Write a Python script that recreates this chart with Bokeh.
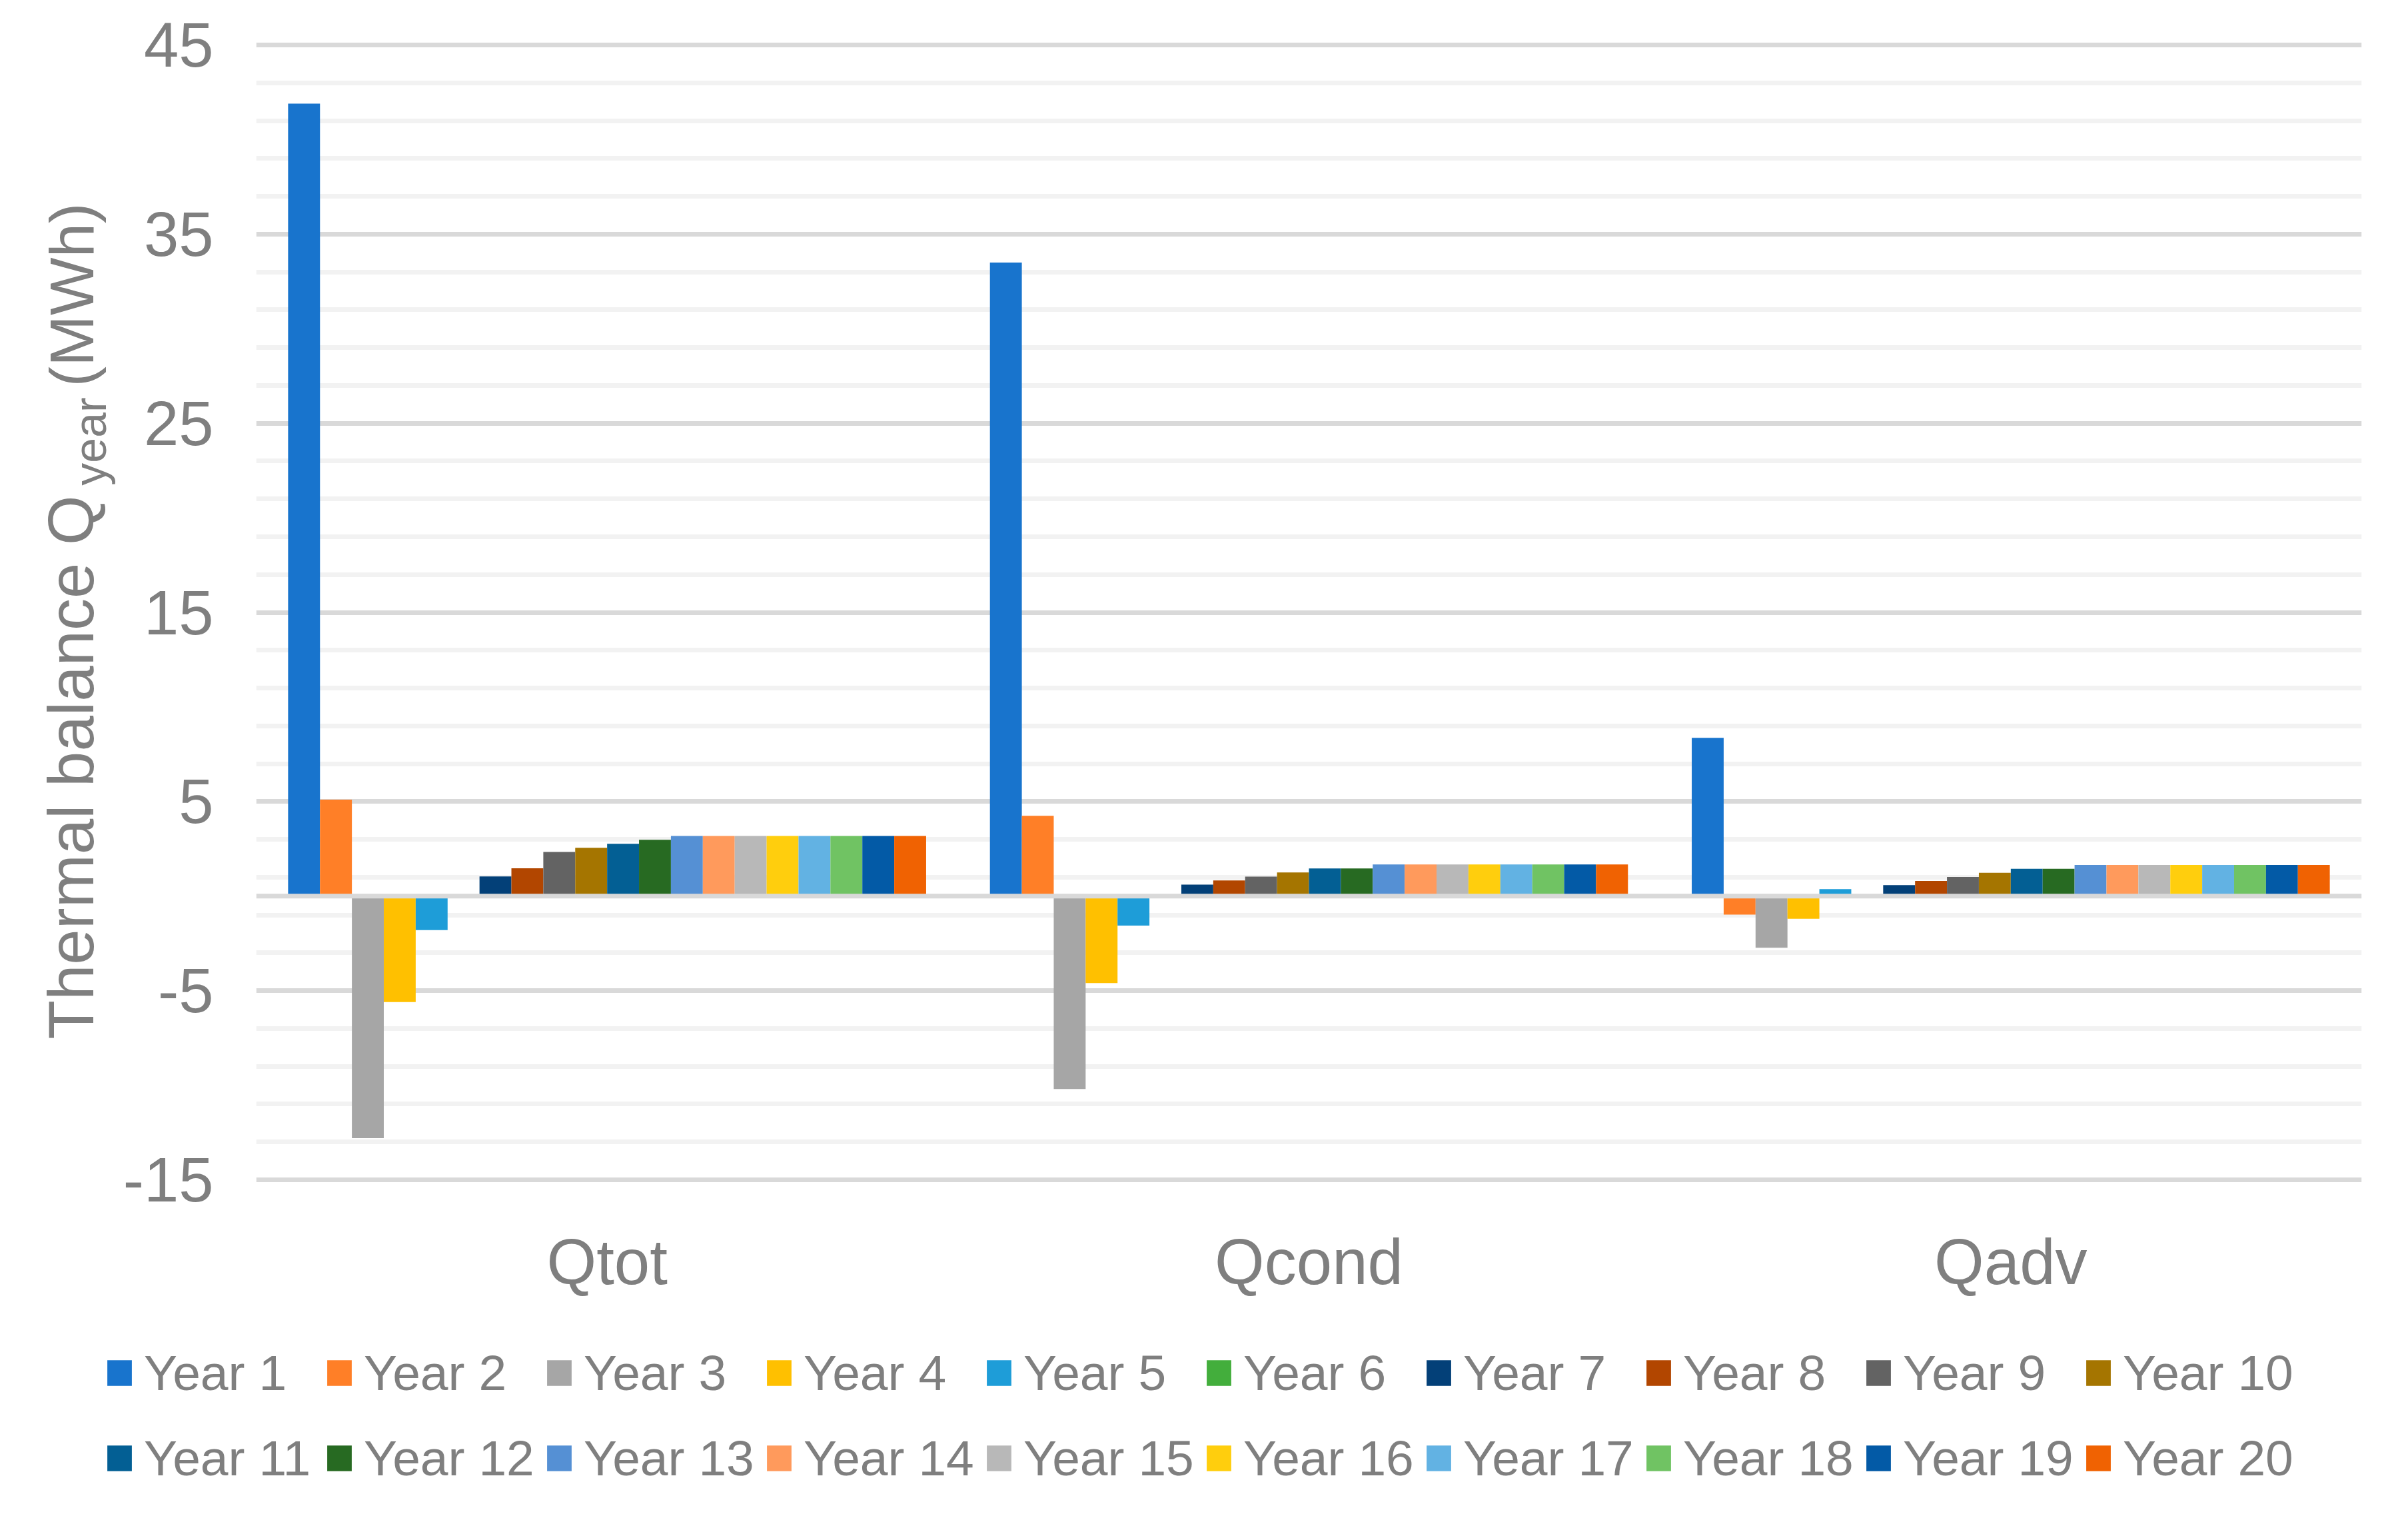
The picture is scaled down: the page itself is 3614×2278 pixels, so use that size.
import math
from bokeh.plotting import figure
from bokeh.models import (FactorRange, Range1d, FixedTicker, Span,
                          Legend, LegendItem, ColumnDataSource)
from bokeh.core.properties import value
from bokeh.transform import dodge
from bokeh.layouts import row, column
from bokeh.embed import file_html
from bokeh.resources import INLINE

# ---------------- data ----------------
categories = ["Qtot", "Qcond", "Qadv"]
years = ["Year %d" % i for i in range(1, 21)]

qtot = [41.9, 5.1, -12.8, -5.6, -1.8, 0.05, 1.04, 1.47, 2.33, 2.55,
        2.76, 2.98, 3.18, 3.18, 3.18, 3.18, 3.18, 3.18, 3.18, 3.18]
qcond = [33.5, 4.24, -10.2, -4.6, -1.56, 0.05, 0.61, 0.83, 1.03, 1.25,
         1.46, 1.46, 1.67, 1.67, 1.67, 1.67, 1.67, 1.67, 1.67, 1.67]
qadv = [8.37, -0.98, -2.73, -1.2, 0.37, 0.04, 0.58, 0.8, 1.01, 1.23,
        1.44, 1.44, 1.65, 1.65, 1.65, 1.65, 1.65, 1.65, 1.65, 1.65]

colors = ["#1874CD", "#FF7F27", "#A6A6A6", "#FFC000", "#1E9DD8",
          "#43AE3C", "#034078", "#B24600", "#636363", "#A57500",
          "#035F94", "#276A22", "#5590D4", "#FF9A5C", "#B8B8B8",
          "#FFCE0D", "#62B2E3", "#70C363", "#035AA6", "#F06202"]

major_ticks = [-15, -5, 5, 15, 25, 35, 45]
tick_labels = ["-15", "-5", "5", "15", "25", "35", "45"]
minor_ticks = [-13, -11, -9, -7, -3, -1, 1, 3, 7, 9, 11, 13, 17, 19, 21, 23,
               27, 29, 31, 33, 37, 39, 41, 43]

title_main = "Thermal balance Q"
title_sub = "year"
title_end = "(MWh)"

# ---------------- style ----------------
GRAY = "#7F7F7F"
FONT = "Liberation Sans"
TOP_H = 1982
TITLE_W = 175
TOTAL_W = 3598
LEG_H = 2262 - TOP_H
BORDER_TOP = 60
BORDER_BOTTOM = 205


def bare(fig):
    fig.outline_line_color = None
    fig.background_fill_color = "white"
    fig.border_fill_color = "white"
    fig.grid.visible = False
    return fig


# ---------- main chart ----------
p = figure(width=TOTAL_W - TITLE_W, height=TOP_H, output_backend="svg",
           toolbar_location=None,
           x_range=FactorRange(factors=categories, range_padding=0),
           y_range=Range1d(-15.25, 45.25),
           min_border_left=209, min_border_right=54, min_border_top=BORDER_TOP,
           min_border_bottom=BORDER_BOTTOM)
p.outline_line_color = None
p.background_fill_color = "white"
p.border_fill_color = "white"

ticker = FixedTicker(ticks=major_ticks, minor_ticks=minor_ticks)
p.yaxis.ticker = ticker
p.ygrid.ticker = ticker
p.ygrid.grid_line_color = "#D9D9D9"
p.ygrid.grid_line_width = 7
p.ygrid.minor_grid_line_color = "#F2F2F2"
p.ygrid.minor_grid_line_width = 7
p.xgrid.grid_line_color = None

p.yaxis.major_label_overrides = {t: l for t, l in zip(major_ticks, tick_labels)}
p.yaxis.axis_line_color = None
p.yaxis.major_tick_line_color = None
p.yaxis.minor_tick_line_color = None
p.yaxis.major_label_standoff = 58
p.yaxis.major_label_text_font = FONT
p.yaxis.major_label_text_font_size = "94px"
p.yaxis.major_label_text_color = GRAY

p.xaxis.axis_line_color = None
p.xaxis.major_tick_line_color = None
p.xaxis.minor_tick_line_color = None
p.xaxis.major_label_standoff = 56
p.xaxis.major_label_text_font = FONT
p.xaxis.major_label_text_font_size = "96px"
p.xaxis.major_label_text_color = GRAY

n = len(years)
slot = 1.0 / (n + 2)
for i, yr in enumerate(years):
    src = ColumnDataSource(dict(cat=categories, val=[qtot[i], qcond[i], qadv[i]]))
    off = (i - (n - 1) / 2.0) * slot
    p.vbar(x=dodge("cat", off, range=p.x_range), top="val", bottom=0,
           width=slot, source=src, fill_color=colors[i], line_color=None)

p.add_layout(Span(location=0, dimension="width", line_color="#D9D9D9", line_width=7))

# ---------- y-axis title (with subscript) ----------
# frame aligned with the main chart's frame; y in pixels from the figure bottom
tf = bare(figure(width=TITLE_W, height=TOP_H, output_backend="svg",
                 toolbar_location=None, x_range=Range1d(0, TITLE_W),
                 y_range=Range1d(BORDER_BOTTOM, TOP_H - BORDER_TOP),
                 min_border_left=0, min_border_right=0,
                 min_border_top=BORDER_TOP, min_border_bottom=BORDER_BOTTOM,
                 x_axis_location=None, y_axis_location=None))
txt_kw = dict(angle=math.pi / 2, text_align="center", text_baseline="middle",
              text_color=GRAY, text_font=value(FONT))
tf.text(x=[106], y=[831], text=[title_main], text_font_size="96px", **txt_kw)
tf.text(x=[134], y=[1320], text=[title_sub], text_font_size="68px", **txt_kw)
tf.text(x=[107.5], y=[1540], text=[title_end], text_font_size="92px", **txt_kw)

# ---------- legend (two rows of ten) ----------
lf = bare(figure(width=TOTAL_W, height=LEG_H, output_backend="svg",
                 toolbar_location=None, x_range=Range1d(0, TOTAL_W),
                 y_range=Range1d(0, LEG_H), min_border=0,
                 x_axis_location=None, y_axis_location=None))
items = []
for i, yr in enumerate(years):
    # off-canvas swatch carrier (only its legend glyph is visible)
    r = lf.vbar(x=[-500], top=[-400], bottom=[-450], width=10,
                fill_color=colors[i], line_color=None)
    items.append(LegendItem(label=yr, renderers=[r]))

leg_kw = dict(orientation="horizontal", glyph_width=46, glyph_height=48,
              label_standoff=14, label_width=258, spacing=12, padding=0, margin=0,
              border_line_color=None, background_fill_alpha=0,
              label_text_font=FONT, label_text_font_size="75px",
              label_text_color=GRAY)
lf.add_layout(Legend(items=items[:10], location=(156, 159), **leg_kw))
lf.add_layout(Legend(items=items[10:], location=(156, 31), **leg_kw))

layout = column(row(tf, p), lf)
open("out.html", "w").write(file_html(layout, INLINE))
